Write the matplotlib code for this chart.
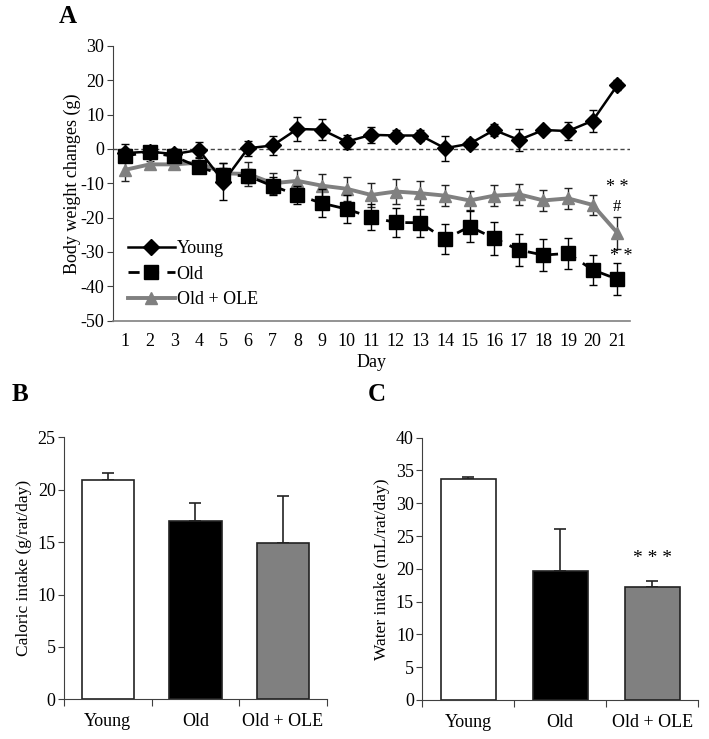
import matplotlib
matplotlib.use('Agg')
import matplotlib.pyplot as plt
from matplotlib.lines import Line2D
import numpy as np

plt.rcParams['font.family'] = ['Liberation Serif', 'DejaVu Serif']
plt.rcParams['axes.unicode_minus'] = False

# Panel A: body weight changes (g)
days = np.arange(1, 22)
young = [-1.2, -0.8, -1.5, -0.3, -9.5, 0.2, 1.0, 5.8, 5.6, 2.1, 4.1, 3.9, 3.9, 0.2, 1.5, 5.5, 2.6, 5.5, 5.2, 8.2, 18.5]
young_err = [2.5, 1.5, 1.5, 2.4, 5.5, 2.2, 2.8, 3.4, 3.0, 2.0, 2.4, 1.5, 1.5, 3.7, 1.5, 1.8, 3.1, 1.0, 2.5, 3.2, 1.5]
old = [-2.0, -1.0, -2.2, -5.3, -7.5, -7.9, -10.8, -13.4, -15.8, -17.5, -19.9, -21.4, -21.5, -26.3, -22.6, -26.0, -29.4, -30.9, -30.4, -35.2, -37.9]
old_err = [1.5, 1.2, 1.5, 1.5, 2.0, 2.0, 2.5, 2.6, 4.0, 4.0, 3.8, 4.2, 4.0, 4.4, 4.5, 4.8, 4.6, 4.6, 4.6, 4.4, 4.6]
ole = [-6.1, -4.5, -4.5, -4.0, -7.1, -7.3, -10.0, -9.3, -10.7, -11.6, -13.4, -12.4, -12.9, -13.6, -15.0, -13.6, -13.2, -15.0, -14.4, -16.3, -24.4]
ole_err = [3.2, 1.0, 1.0, 1.5, 3.0, 3.5, 3.0, 3.3, 3.3, 3.5, 3.5, 3.5, 3.5, 3.0, 2.8, 3.0, 3.0, 3.0, 3.0, 2.8, 4.6]

# Panels B and C
groups = ['Young', 'Old', 'Old + OLE']
bar_colors = ['white', 'black', '#808080']
caloric = [20.9, 17.05, 14.9]
caloric_err = [0.7, 1.65, 4.5]
water = [33.7, 19.6, 17.3]
water_err = [0.3, 6.4, 0.9]

fig = plt.figure(figsize=(7.09, 7.39), dpi=100)

# ---------------- Panel A ----------------
ax = fig.add_axes([0.159, 0.566, 0.729, 0.372])
ax.axhline(0, color='#444444', ls=(0, (3, 2)), lw=1, zorder=1)
ax.errorbar(days, young, yerr=young_err, color='black', lw=1.8, marker='D', ms=8,
            capsize=3, elinewidth=1, ecolor='black', zorder=4)
ax.errorbar(days, old, yerr=old_err, color='black', lw=2, ls=(0, (4, 3)), marker='s', ms=10,
            capsize=3, elinewidth=1, ecolor='black', zorder=3)
ax.errorbar(days, ole, yerr=ole_err, color='#808080', lw=2.8, marker='^', ms=9,
            capsize=3, elinewidth=1, ecolor='#222222', zorder=2)
ax.text(21, -11.3, '* *', ha='center', va='center', fontsize=13)
ax.text(21, -17, '#', ha='center', va='center', fontsize=12)
ax.text(21.15, -31.2, '* *', ha='center', va='center', fontsize=13)

ax.set_xlim(0.5, 21.5)
ax.set_ylim(-50, 30)
ax.set_yticks(np.arange(-50, 31, 10))
ax.set_xticks(days)
ax.tick_params(axis='x', length=0, labelsize=13, pad=9)
ax.tick_params(axis='y', length=4, direction='out', labelsize=13, color='#404040', pad=2)
for s in ['top', 'right']:
    ax.spines[s].set_visible(False)
ax.spines['left'].set_color('#404040')
ax.spines['bottom'].set_color('#808080')
ax.spines['bottom'].set_linewidth(1.2)
ax.set_xlabel('Day', fontsize=13, labelpad=3)
ax.set_ylabel('Body weight changes (g)', fontsize=13, labelpad=0)
handles = [
    Line2D([], [], color='black', lw=1.8, marker='D', ms=8),
    Line2D([], [], color='black', lw=2, ls=(0, (4, 3)), marker='s', ms=10),
    Line2D([], [], color='#808080', lw=2.8, marker='^', ms=9),
]
ax.legend(handles, ['Young', 'Old', 'Old + OLE'], loc='lower left', bbox_to_anchor=(0.005, 0.0),
          frameon=False, fontsize=13, handlelength=2.6, handletextpad=0.1,
          labelspacing=0.47, borderaxespad=0.3)
fig.text(0.095, 0.977, 'A', fontsize=18, fontweight='bold', ha='center', va='center')


def bar_panel(rect, vals, errs, ylim, step, ylabel):
    axb = fig.add_axes(rect)
    x = np.arange(len(groups))
    axb.bar(x, vals, width=0.6, color=bar_colors, edgecolor='#222222', linewidth=1.2, zorder=2)
    axb.errorbar(x, vals, yerr=[np.zeros(len(vals)), errs], fmt='none', ecolor='#222222',
                 elinewidth=1.2, capsize=4, capthick=1.2, zorder=1)
    axb.set_xlim(-0.5, 2.5)
    axb.set_ylim(*ylim)
    axb.set_yticks(np.arange(ylim[0], ylim[1] + 0.1, step))
    axb.set_xticks([-0.5, 0.5, 1.5, 2.5])
    axb.set_xticklabels([])
    axb.set_xticks(x, minor=True)
    axb.set_xticklabels(groups, minor=True, fontsize=13)
    axb.tick_params(axis='x', which='minor', length=0, pad=10)
    axb.tick_params(axis='x', which='major', length=5, direction='out', color='#404040')
    axb.tick_params(axis='y', length=4, direction='out', labelsize=13, color='#404040', pad=2)
    for s in ['top', 'right']:
        axb.spines[s].set_visible(False)
    for s in ['left', 'bottom']:
        axb.spines[s].set_color('#404040')
    axb.set_ylabel(ylabel, fontsize=12.5, labelpad=4)
    return axb


axB = bar_panel([0.0903, 0.0537, 0.3705, 0.3545], caloric, caloric_err, (0, 25), 5,
                'Caloric intake (g/rat/day)')
fig.text(0.028, 0.466, 'B', fontsize=18, fontweight='bold', ha='center', va='center')

axC = bar_panel([0.5956, 0.0528, 0.389, 0.355], water, water_err, (0, 40), 5,
                'Water intake (mL/rat/day)')
axC.text(2, 21.6, '* * *', ha='center', va='center', fontsize=14)
fig.text(0.531, 0.466, 'C', fontsize=18, fontweight='bold', ha='center', va='center')

fig.savefig('out.png', dpi=100)
